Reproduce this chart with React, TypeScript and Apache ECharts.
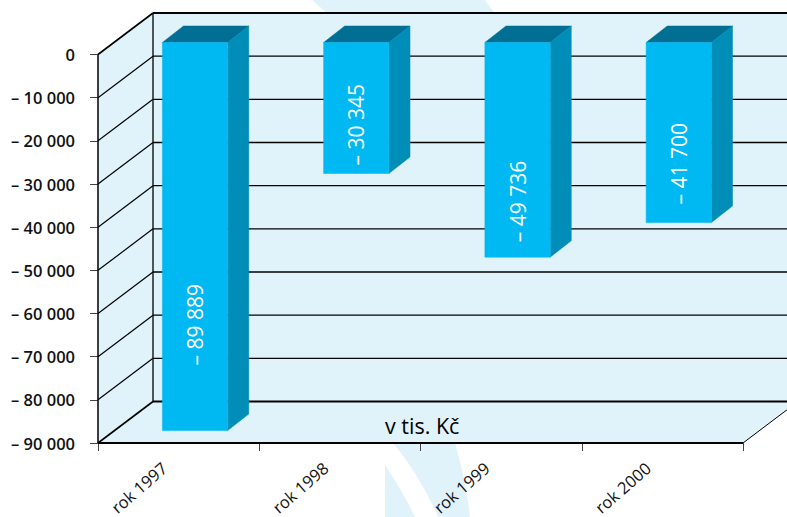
import React, { useEffect, useRef } from "react";
import * as echarts from "echarts";

const categories = ["rok 1997", "rok 1998", "rok 1999", "rok 2000"];
const values = [-89889, -30345, -49736, -41700];
const valueLabels = ["– 89 889", "– 30 345", "– 49 736", "– 41 700"];
const tickValues = [0, -10000, -20000, -30000, -40000, -50000, -60000, -70000, -80000, -90000];
const tickLabels = ["0", "– 10 000", "– 20 000", "– 30 000", "– 40 000", "– 50 000", "– 60 000", "– 70 000", "– 80 000", "– 90 000"];
const labelLift = [65, 8, 15, 18];

const WALL = "#E0F3FB";
const FRONT = "#00B9F2";
const SIDE = "#008DB8";
const TOP = "#006F93";
const FONT = '"Open Sans", "Noto Sans", sans-serif';
const DEPTH = [55, -41.5];
const BAR_FRONT = [16.4, -12];
const BAR_BACK = [37.5, -28.5];

const swooshPath =
  "M312 0 L328 14 L495 14 L485 0 Z " +
  "M393 443 Q420 475 438 517 L470 517 Q466 480 455 443 Z " +
  "M385 465 Q402 490 415 517 L385 517 Z";
echarts.graphic.registerShape("swoosh", echarts.graphic.extendPath(swooshPath, {}) as any);

function line(a: number[], b: number[], width: number) {
  return {
    type: "line",
    shape: { x1: a[0], y1: a[1], x2: b[0], y2: b[1] },
    style: { stroke: "#000", lineWidth: width },
  };
}
function poly(points: number[][], fill: string) {
  return { type: "polygon", shape: { points }, style: { fill, stroke: fill, lineWidth: 0.5 } };
}
const add = (p: number[], d: number[]) => [p[0] + d[0], p[1] + d[1]];

function renderFrame(_: any, api: any) {
  const band = api.size([1, 0])[0];
  const c0 = api.coord([0, 0]);
  const cN = api.coord([categories.length - 1, 0]);
  const left = c0[0] - band / 2;
  const right = cN[0] + band / 2;
  const yOf = (v: number) => api.coord([0, v])[1];
  const bottom = yOf(tickValues[tickValues.length - 1]);
  const children: any[] = [];
  const fl = [left, bottom];
  const fr = [right, bottom];
  const tl = [left, yOf(0)];
  children.push(poly([tl, add(tl, DEPTH), [800, tl[1] + DEPTH[1]], [800, bottom + DEPTH[1]], add(fr, DEPTH), fr, fl], WALL));
  tickValues.forEach((v, i) => {
    const p = [left, yOf(v)];
    const q = add(p, DEPTH);
    const edge = i === 0 || i === tickValues.length - 1;
    children.push(line(p, q, edge ? 1.6 : 1.2));
    children.push(line(q, [800, q[1]], edge ? 2 : 1.3));
  });
  children.push(line(add(tl, DEPTH), add(fl, DEPTH), 1.3));
  children.push(line(fr, add(fr, DEPTH), 1));
  children.push(line(fl, fr, 2));
  children.push(line(tl, fl, 1.5));
  children.push({
    type: "text",
    style: { x: 385, y: 425, text: "v tis. Kč", font: `21.5px ${FONT}`, fill: "#000", verticalAlign: "middle" },
  });
  return { type: "group", children };
}

function renderBar(_: any, api: any) {
  const i = api.value(0);
  const v = api.value(1);
  const band = api.size([1, 0])[0];
  const w = band * 0.405;
  const c = api.coord([i, 0]);
  const b = api.coord([i, v]);
  const x0 = c[0] - w / 2;
  const x1 = c[0] + w / 2;
  const ftl = add([x0, c[1]], BAR_FRONT);
  const ftr = add([x1, c[1]], BAR_FRONT);
  const fbr = add([x1, b[1]], BAR_FRONT);
  const fbl = add([x0, b[1]], BAR_FRONT);
  const btl = add([x0, c[1]], BAR_BACK);
  const btr = add([x1, c[1]], BAR_BACK);
  const bbr = add([x1, b[1]], BAR_BACK);
  return {
    type: "group",
    children: [
      poly([ftl, btl, btr, ftr], TOP),
      poly([ftr, btr, bbr, fbr], SIDE),
      poly([ftl, ftr, fbr, fbl], FRONT),
      {
        type: "text",
        x: (ftl[0] + ftr[0]) / 2,
        y: fbl[1] - labelLift[i],
        rotation: Math.PI / 2,
        style: { x: 0, y: 0, text: valueLabels[i], font: `21px ${FONT}`, fill: "#fff", align: "left", verticalAlign: "middle" },
      },
    ],
  };
}

export default function App() {
  const ref = useRef<HTMLDivElement>(null);
  useEffect(() => {
    const chart = echarts.init(ref.current!, undefined, { renderer: "svg" });
    chart.setOption({
      animation: false,
      backgroundColor: "#fff",
      grid: { left: 98, right: 44, top: 54.5, bottom: 74, outerBoundsMode: "none" },
      graphic: [
        { type: "swoosh", z: -1, x: 0, y: 0, style: { fill: WALL } },
      ],
      xAxis: {
        type: "category",
        position: "bottom",
        data: categories,
        boundaryGap: true,
        axisLine: { show: true, onZero: false, lineStyle: { color: "rgba(0,0,0,0)" } },
        axisTick: { show: true, length: 8, lineStyle: { color: "#444", width: 1 } },
        axisLabel: {
          rotate: 41,
          margin: 10,
          padding: [0, 19, 0, 0],
          color: "#111",
          fontSize: 16.5,
          fontFamily: FONT,
          interval: 0,
        },
      },
      yAxis: {
        type: "value",
        min: -90000,
        max: 0,
        interval: 10000,
        splitLine: { show: false },
        axisLine: { show: false },
        axisTick: { show: true, length: 8, lineStyle: { color: "#444", width: 1 } },
        axisLabel: {
          margin: 23,
          padding: [2, 0, 0, 0],
          color: "#111",
          fontSize: 16.5,
          fontWeight: 600,
          fontFamily: FONT,
          formatter: (v: number) => tickLabels[tickValues.indexOf(v)],
        },
      },
      series: [
        { type: "custom", data: [[0, 0]], renderItem: renderFrame, clip: false, z: 1, silent: true },
        { type: "custom", data: values.map((v, i) => [i, v]), renderItem: renderBar, clip: false, z: 2, silent: true },
      ],
    });
    return () => chart.dispose();
  }, []);
  return <div ref={ref} style={{ width: 787, height: 517, position: "absolute", left: 0, top: 0 }} />;
}
